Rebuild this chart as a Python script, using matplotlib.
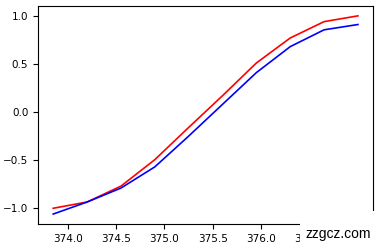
import numpy as np
import matplotlib
matplotlib.use("Agg")
import matplotlib.pyplot as plt
from matplotlib.patches import Rectangle

x = [373.85, 374.2, 374.55, 374.9, 375.25, 375.6, 375.95, 376.3, 376.65, 377.0]
red = [-1.0, -0.935, -0.77, -0.495, -0.16, 0.17, 0.51, 0.77, 0.94, 1.0]
blue = [-1.06, -0.935, -0.79, -0.57, -0.25, 0.08, 0.41, 0.68, 0.855, 0.91]

fig = plt.figure(figsize=(3.8, 2.48), dpi=100)
ax = fig.add_axes([0.1, 0.097, 0.882, 0.879])
ax.plot(x, red, c='r', lw=1.2)
ax.plot(x, blue, c='b', lw=1.2)
ax.set_xticks([374.0, 374.5, 375.0, 375.5, 376.0, 376.5])
ax.set_yticks([-1.0, -0.5, 0.0, 0.5, 1.0])
ax.tick_params(labelsize=7.5)

# watermark box
fig.patches.append(Rectangle((300/380, 0), 80/380, 37/248, transform=fig.transFigure,
                             facecolor='white', edgecolor='none', zorder=5))
fig.text(306/380, 10/248, "zzgcz.com", fontsize=10, family='Liberation Sans', zorder=6)

fig.savefig("out.png")
